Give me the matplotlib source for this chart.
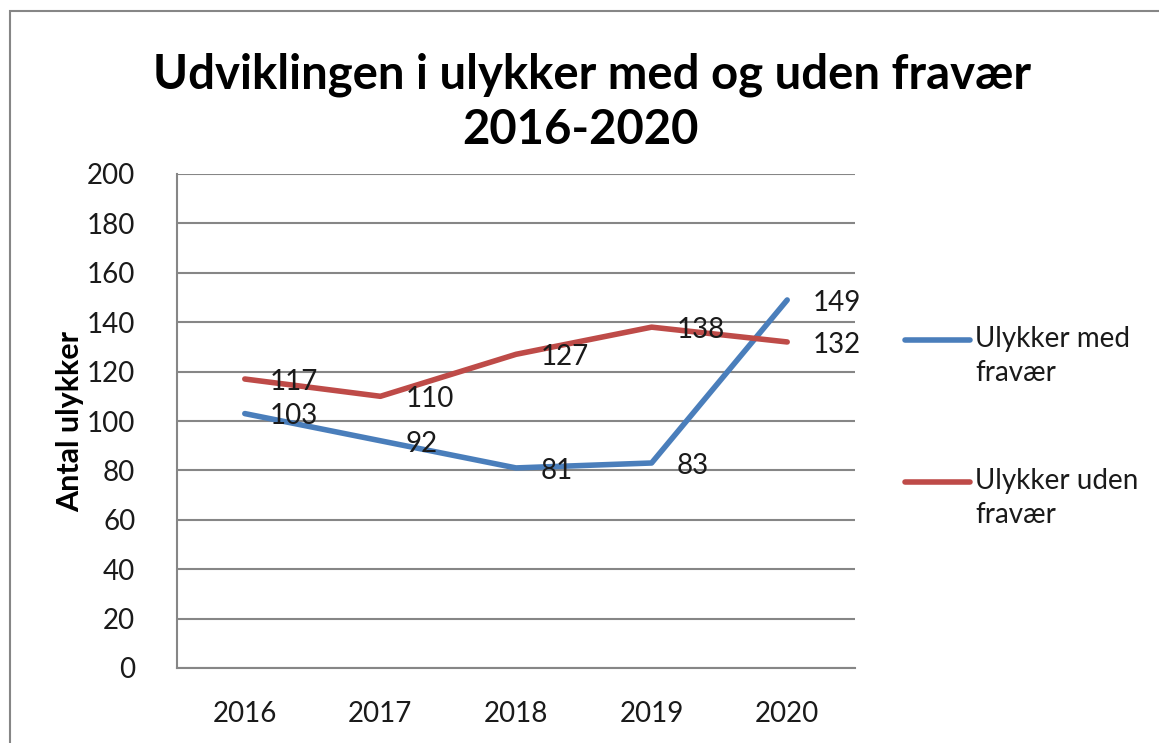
import matplotlib.pyplot as plt
from matplotlib.lines import Line2D
from matplotlib.patches import Rectangle

# data
aar = ["2016", "2017", "2018", "2019", "2020"]
med_fravaer = [103, 92, 81, 83, 149]
uden_fravaer = [117, 110, 127, 138, 132]
serie_navne = ["Ulykker med\nfravær", "Ulykker uden\nfravær"]
y_ticks = [0, 20, 40, 60, 80, 100, 120, 140, 160, 180, 200]

BLAA = "#4a7ebb"
ROED = "#be4b48"
GRAA = "#868686"

plt.rcParams["font.family"] = ["Lato", "DejaVu Sans"]

fig = plt.figure(figsize=(11.59, 7.43), dpi=100)
W, H = 1159, 743

# ramme rundt om diagrammet
fig.add_artist(Rectangle((10 / W, -0.1), 1.2, 1 - 11 / H + 0.1, transform=fig.transFigure,
                         fill=False, edgecolor=GRAA, linewidth=1.5))

ax = fig.add_axes([177 / W, 75 / H, (855 - 177) / W, (668 - 174) / H])
x = list(range(len(aar)))

ax.plot(x, med_fravaer, color=BLAA, linewidth=4, solid_capstyle="round", zorder=3)
ax.plot(x, uden_fravaer, color=ROED, linewidth=4, solid_capstyle="round", zorder=3)

for serie in (med_fravaer, uden_fravaer):
    for xi, v in zip(x, serie):
        ax.annotate(str(v), (xi, v), xytext=(18, -2), textcoords="offset points",
                    ha="left", va="center", fontsize=20, color="#1a1a1a", zorder=4)

ax.set_xlim(-0.5, len(aar) - 0.5)
ax.set_ylim(0, 200)
ax.set_xticks(x)
ax.set_xticklabels(aar)
ax.set_yticks(y_ticks)
ax.tick_params(axis="both", length=0, labelsize=20, colors="#1a1a1a")
ax.tick_params(axis="x", pad=24)
ax.tick_params(axis="y", pad=30)
ax.grid(axis="y", color=GRAA, linewidth=1.5, zorder=1)
for s in ("top", "right"):
    ax.spines[s].set_visible(False)
for s in ("left", "bottom"):
    ax.spines[s].set_color(GRAA)
    ax.spines[s].set_linewidth(1.5)

ax.set_ylabel("Antal ulykker", fontsize=22, fontweight="bold")
ax.yaxis.set_label_coords((70 - 177) / (855 - 177), 0.5)
ax.yaxis.label.set_va("center")

fig.text(592 / W, 1 - 75 / H, "Udviklingen i ulykker med og uden fravær",
         ha="center", va="center", fontsize=34, fontweight="bold")
fig.text(580 / W, 1 - 130 / H, "2016-2020",
         ha="center", va="center", fontsize=34, fontweight="bold")

# legende
for farve, navn, y0 in zip([BLAA, ROED], serie_navne, [340, 482]):
    fig.add_artist(Line2D([905 / W, 970 / W], [1 - y0 / H, 1 - y0 / H], color=farve,
                          linewidth=4, solid_capstyle="round", transform=fig.transFigure))
    fig.text(975 / W, 1 - (y0 - 14) / H, navn, ha="left", va="top", fontsize=20,
             color="#1a1a1a", linespacing=1.4)

fig.savefig("out.png", dpi=100)
